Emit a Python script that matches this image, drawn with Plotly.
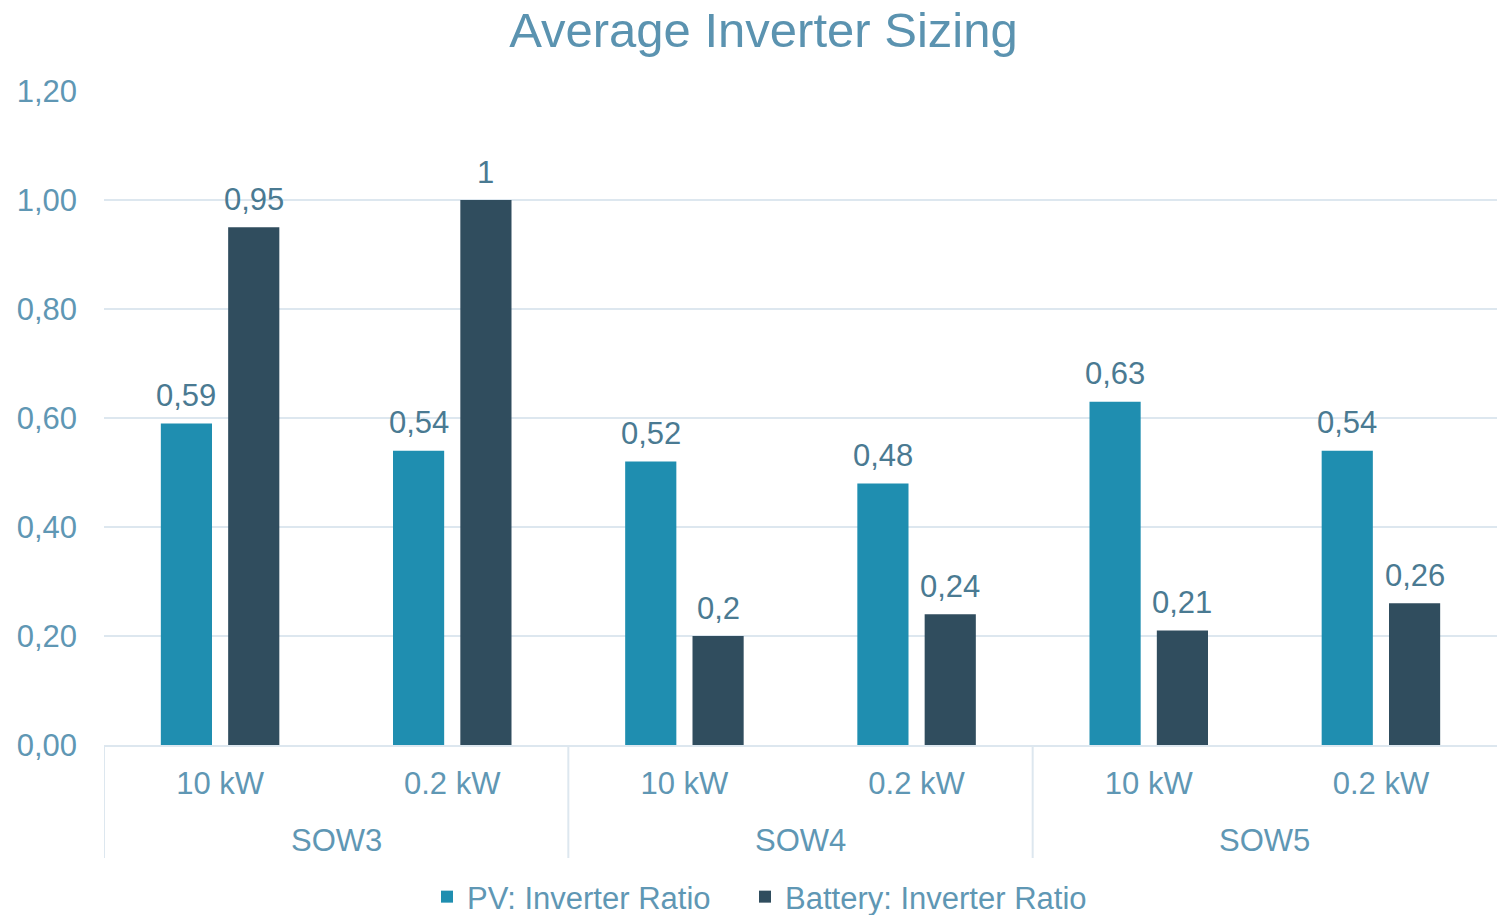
import plotly.graph_objects as go

# Study groups and inverter sizes along the x axis
groups = ["SOW3", "SOW4", "SOW5"]
sizes = ["10 kW", "0.2 kW", "10 kW", "0.2 kW", "10 kW", "0.2 kW"]

# Ratios for each series
pv_ratio = [0.59, 0.54, 0.52, 0.48, 0.63, 0.54]
battery_ratio = [0.95, 1.00, 0.20, 0.24, 0.21, 0.26]

y_ticks = [0.0, 0.2, 0.4, 0.6, 0.8, 1.0, 1.2]

PV_COLOR = "#1f8eb0"
BAT_COLOR = "#304d5e"
TEXT_LIGHT = "#5f97b4"
TEXT_DARK = "#4a7a92"
GRID = "#dde7ef"
FONT = "Arial"
FS = 31

BARGAP = 0.42
BARGROUPGAP = 0.24

# Plot area geometry in pixels (used to place labels below the axis)
PLOT_LEFT = 104
PLOT_TOP, PLOT_BOTTOM = 91, 745
PLOT_H = PLOT_BOTTOM - PLOT_TOP
PLOT_W = 1497 - PLOT_LEFT


def below_axis(px):
    """Paper y coordinate for a point px pixels below the x axis."""
    return -px / PLOT_H


def paper_x(px):
    return (px - PLOT_LEFT) / PLOT_W


def label(v):
    return format(v, "g").replace(".", ",")


x_pos = list(range(len(sizes)))
per_group = len(sizes) // len(groups)
series = [
    ("PV: Inverter Ratio", pv_ratio, PV_COLOR, "legend", 427),
    ("Battery: Inverter Ratio", battery_ratio, BAT_COLOR, "legend2", 745),
]
slot = (1 - BARGAP) / len(series)

fig = go.Figure()
legend_boxes = {}
for k, (name, vals, color, leg, leg_left) in enumerate(series):
    fig.add_trace(
        go.Bar(
            name=name,
            x=x_pos,
            y=vals,
            legend=leg,
            marker=dict(color=color, line=dict(width=0)),
        )
    )
    legend_boxes[leg] = dict(
        orientation="h",
        x=paper_x(leg_left),
        xanchor="left",
        y=below_axis(897 - PLOT_BOTTOM),
        yanchor="middle",
        font=dict(size=FS, color=TEXT_LIGHT, family=FONT),
        itemwidth=30,
        bgcolor="rgba(0,0,0,0)",
    )
    # value labels sitting above each bar
    offset = (k - (len(series) - 1) / 2) * slot
    for xi, v in zip(x_pos, vals):
        fig.add_annotation(
            x=xi + offset, y=v, xref="x", yref="y",
            text=label(v), showarrow=False,
            xanchor="center", yanchor="middle", yshift=28,
            font=dict(size=FS, color=TEXT_DARK, family=FONT),
        )

# Group labels and separators beneath the size labels
for i, g in enumerate(groups):
    center = i * per_group + (per_group - 1) / 2
    fig.add_annotation(
        x=center, xref="x",
        y=below_axis(840 - PLOT_BOTTOM), yref="paper",
        text=g, showarrow=False,
        xanchor="center", yanchor="middle",
        font=dict(size=FS, color=TEXT_LIGHT, family=FONT),
    )
    edge = i * per_group - 0.5
    fig.add_shape(
        type="line", xref="x", yref="paper",
        x0=edge, x1=edge, y0=0, y1=below_axis(858 - PLOT_BOTTOM),
        line=dict(color=GRID, width=2),
    )

fig.update_layout(
    width=1497,
    height=915,
    margin=dict(l=PLOT_LEFT, r=0, t=PLOT_TOP, b=915 - PLOT_BOTTOM, autoexpand=False),
    paper_bgcolor="white",
    plot_bgcolor="white",
    separators=",.",
    barmode="group",
    bargap=BARGAP,
    bargroupgap=BARGROUPGAP,
    font=dict(family=FONT, size=FS, color=TEXT_LIGHT),
    title=dict(
        text="Average Inverter Sizing",
        x=0.51,
        xanchor="center",
        y=0.967,
        yanchor="middle",
        font=dict(size=49, color="#5b93b0", family=FONT),
    ),
    legend=legend_boxes["legend"],
    legend2=legend_boxes["legend2"],
    showlegend=True,
)

fig.update_yaxes(
    range=[0, 1.2],
    tickvals=y_ticks,
    tickformat=".2f",
    showgrid=True,
    gridcolor=GRID,
    gridwidth=2,
    zeroline=False,
    showline=False,
    ticks="",
    ticklabelstandoff=26,
    tickfont=dict(size=FS, color=TEXT_LIGHT, family=FONT),
)

fig.update_xaxes(
    range=[-0.5, len(sizes) - 0.5],
    tickvals=x_pos,
    ticktext=sizes,
    showgrid=False,
    zeroline=False,
    showline=True,
    linecolor=GRID,
    linewidth=2,
    ticks="",
    ticklabelstandoff=10,
    tickfont=dict(size=FS, color=TEXT_LIGHT, family=FONT),
)

fig.write_html("out.html")
